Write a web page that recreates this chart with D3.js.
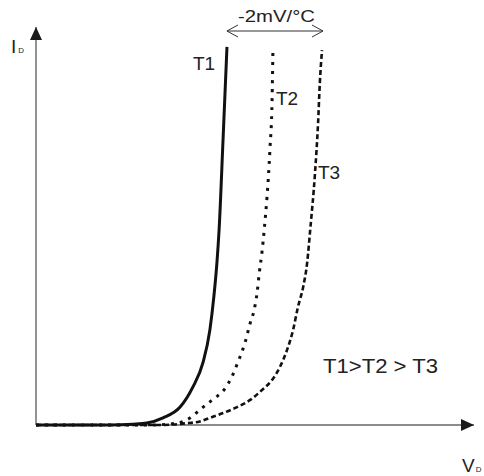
<!DOCTYPE html>
<html>
<head>
<meta charset="utf-8">
<script src="https://cdn.jsdelivr.net/npm/d3@7"></script>
<style>
body{margin:0;background:#fff}
</style>
</head>
<body>
<script>
// values (V and I in relative units)
let t1V = [0, 0.170, 0.221, 0.253, 0.290, 0.329, 0.358, 0.381, 0.397, 0.406, 0.413, 0.418, 0.427, 0.436];
let t1I = [0, 0.000, 0.002, 0.005, 0.018, 0.045, 0.095, 0.156, 0.239, 0.322, 0.407, 0.490, 0.716, 0.950];

let t2V = [0, 0.260, 0.317, 0.352, 0.374, 0.393, 0.411, 0.429, 0.447, 0.461, 0.477, 0.489, 0.498, 0.505, 0.510, 0.516, 0.521, 0.534, 0.539, 0.541];
let t2I = [0, 0.000, 0.004, 0.018, 0.038, 0.055, 0.070, 0.088, 0.121, 0.158, 0.206, 0.256, 0.289, 0.334, 0.384, 0.435, 0.490, 0.691, 0.817, 0.950];

let t3V = [0, 0.283, 0.340, 0.374, 0.397, 0.427, 0.459, 0.489, 0.516, 0.539, 0.557, 0.573, 0.587, 0.598, 0.610, 0.619, 0.626, 0.637, 0.644, 0.648, 0.653];
let t3I = [0, 0.000, 0.004, 0.009, 0.018, 0.030, 0.045, 0.063, 0.088, 0.113, 0.146, 0.188, 0.239, 0.296, 0.347, 0.407, 0.490, 0.633, 0.759, 0.859, 0.942];

let seriesNames = ["T1", "T2", "T3"];
let shiftLabel = "-2mV/°C";
let orderLabel = "T1>T2 > T3";

function toPoints(vs, is){
  return vs.map((v, i) => [v, is[i]]);
}

let series = [toPoints(t1V, t1I), toPoints(t2V, t2I), toPoints(t3V, t3I)];
let dashes = ["none", "3,6", "5,3"];
let widths = [3, 3, 2.6];

let svg = d3.select("body")
  .append("svg")
  .attr("width", 484)
  .attr("height", 476)
  .style("font-family", "'Liberation Sans', Arial, sans-serif");

let defs = svg.append("defs");
defs.append("marker")
  .attr("id", "solidArrow")
  .attr("viewBox", "0 0 13 12")
  .attr("refX", 13)
  .attr("refY", 6)
  .attr("markerWidth", 13)
  .attr("markerHeight", 12)
  .attr("markerUnits", "userSpaceOnUse")
  .attr("orient", "auto")
  .append("path")
  .attr("d", "M0,0L13,6L0,12Z")
  .style("fill", "#1a1a1a");

defs.append("marker")
  .attr("id", "openArrow")
  .attr("viewBox", "0 0 12 14")
  .attr("refX", 11)
  .attr("refY", 7)
  .attr("markerWidth", 12)
  .attr("markerHeight", 14)
  .attr("markerUnits", "userSpaceOnUse")
  .attr("orient", "auto-start-reverse")
  .append("path")
  .attr("d", "M0,1L11,7L0,13")
  .style("fill", "none")
  .style("stroke", "#333")
  .style("stroke-width", 1);

let xScale = d3.scaleLinear()
  .domain([0, 1])
  .range([36, 474]);
let yScale = d3.scaleLinear()
  .domain([0, 1])
  .range([425, 27]);

// axes without ticks, arrow at the end
let xAxis = svg.append("g")
  .attr("transform", `translate(0,${yScale(0)})`)
  .call(d3.axisBottom(xScale).ticks(0).tickSizeOuter(0));
let yAxis = svg.append("g")
  .attr("transform", `translate(${xScale(0)},0)`)
  .call(d3.axisLeft(yScale).ticks(0).tickSizeOuter(0));

xAxis.select(".domain")
  .attr("d", `M${xScale(0)},0H${xScale(1)}`)
  .style("stroke", "#666")
  .style("stroke-width", 1.4)
  .attr("marker-end", "url(#solidArrow)");
yAxis.select(".domain")
  .attr("d", `M0,${yScale(0)}V${yScale(1)}`)
  .style("stroke", "#666")
  .style("stroke-width", 1.4)
  .attr("marker-end", "url(#solidArrow)");

let line = d3.line()
  .x(d => xScale(d[0]))
  .y(d => yScale(d[1]))
  .curve(d3.curveMonotoneX);

svg.selectAll(".curve")
  .data(series)
  .enter()
  .append("path")
  .attr("class", "curve")
  .attr("d", line)
  .style("fill", "none")
  .style("stroke", "#111")
  .style("stroke-width", (d, i) => widths[i])
  .style("stroke-dasharray", (d, i) => dashes[i]);

// curve labels
let labelPos = [[193, 70], [276, 105], [318, 179]];
svg.selectAll(".lbl")
  .data(seriesNames)
  .enter()
  .append("text")
  .attr("class", "lbl")
  .attr("x", (d, i) => labelPos[i][0])
  .attr("y", (d, i) => labelPos[i][1])
  .attr("font-size", "19px")
  .attr("fill", "#222")
  .text(d => d);

// shift arrow between T1 and T3 tops
let topT1 = series[0][series[0].length - 1];
let topT3 = series[2][series[2].length - 1];
svg.append("line")
  .attr("x1", xScale(topT1[0]))
  .attr("x2", xScale(topT3[0]) + 1)
  .attr("y1", 31)
  .attr("y2", 31)
  .style("stroke", "#333")
  .style("stroke-width", 1)
  .attr("marker-start", "url(#openArrow)")
  .attr("marker-end", "url(#openArrow)");

svg.append("text")
  .attr("x", 238)
  .attr("y", 22)
  .attr("font-size", "17px")
  .attr("textLength", 77)
  .attr("lengthAdjust", "spacingAndGlyphs")
  .attr("fill", "#222")
  .text(shiftLabel);

svg.append("text")
  .attr("x", 323)
  .attr("y", 373)
  .attr("font-size", "19.5px")
  .attr("textLength", 115)
  .attr("lengthAdjust", "spacingAndGlyphs")
  .attr("fill", "#222")
  .text(orderLabel);

// axis titles with subscripts
let yTitle = svg.append("text")
  .attr("x", 11)
  .attr("y", 53)
  .attr("font-size", "19px")
  .attr("fill", "#222");
yTitle.append("tspan").text("I");
yTitle.append("tspan").attr("font-size", "8px").attr("dx", 2).text("D");

let xTitle = svg.append("text")
  .attr("x", 462)
  .attr("y", 472)
  .attr("font-size", "19px")
  .attr("fill", "#222");
xTitle.append("tspan").text("V");
xTitle.append("tspan").attr("font-size", "8px").attr("dx", 1).text("D");
</script>
</body>
</html>
